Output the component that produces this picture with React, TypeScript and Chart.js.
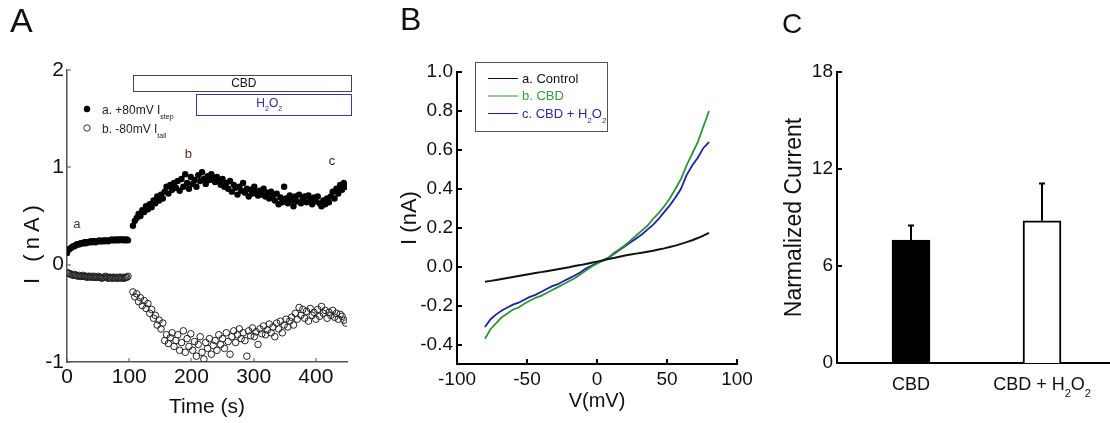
import React, { useEffect, useRef } from "react";
import { Chart, registerables } from "chart.js";

Chart.register(...registerables);

const SANS = "'Liberation Sans', Arial, sans-serif";
const NARROW = "'Liberation Sans Narrow', 'Liberation Sans', Arial, sans-serif";

// ---------------- Panel A data ----------------
const timeBaseline = [
  0, 2, 4, 6, 8, 10, 12, 14, 16, 18, 20, 22, 24, 26, 28, 30, 32, 34, 36, 38,
  40, 42, 44, 46, 48, 50, 52, 54, 56, 58, 60, 62, 64, 66, 68, 70, 72, 74, 76, 78,
  80, 82, 84, 86, 88, 90, 92, 94, 96, 98,
];
const stepBaseline = [
  0.12, 0.15, 0.16, 0.17, 0.18, 0.19, 0.19, 0.2, 0.21, 0.21,
  0.21, 0.22, 0.22, 0.22, 0.23, 0.22, 0.23, 0.23, 0.23, 0.24,
  0.23, 0.24, 0.24, 0.23, 0.24, 0.24, 0.25, 0.24, 0.24, 0.25,
  0.24, 0.25, 0.25, 0.24, 0.25, 0.25, 0.26, 0.25, 0.25, 0.26,
  0.25, 0.26, 0.25, 0.26, 0.26, 0.25, 0.26, 0.25, 0.26, 0.25,
];
const tailBaseline = [
  -0.08, -0.09, -0.09, -0.1, -0.1, -0.11, -0.1, -0.11, -0.11, -0.12,
  -0.11, -0.12, -0.12, -0.11, -0.12, -0.12, -0.13, -0.12, -0.12, -0.13,
  -0.12, -0.13, -0.12, -0.13, -0.13, -0.12, -0.13, -0.13, -0.14, -0.13,
  -0.13, -0.12, -0.13, -0.14, -0.13, -0.13, -0.14, -0.13, -0.13, -0.14,
  -0.13, -0.14, -0.13, -0.13, -0.14, -0.13, -0.14, -0.13, -0.13, -0.12,
];
const timeTreatment = [
  106, 109, 112, 115, 118, 121, 124, 127, 130, 133,
  136, 139, 142, 145, 148, 151, 154, 157, 160, 163,
  166, 169, 172, 175, 178, 181, 184, 187, 190, 193,
  196, 199, 202, 205, 208, 211, 214, 217, 220, 223,
  226, 229, 232, 235, 238, 241, 244, 247, 250, 253,
  256, 259, 262, 265, 268, 271, 274, 277, 280, 283,
  286, 289, 292, 295, 298, 301, 304, 307, 310, 313,
  316, 319, 322, 325, 328, 331, 334, 337, 340, 343,
  346, 349, 352, 355, 358, 361, 364, 367, 370, 373,
  376, 379, 382, 385, 388, 391, 394, 397, 400, 403,
  406, 409, 412, 415, 418, 421, 424, 427, 430, 433,
  436, 439, 442, 445, 448,
];
const stepTreatment = [
  0.4, 0.45, 0.48, 0.52, 0.5, 0.56, 0.54, 0.6, 0.57, 0.62,
  0.59, 0.66, 0.63, 0.7, 0.66, 0.72, 0.68, 0.75, 0.8, 0.73,
  0.82, 0.77, 0.84, 0.79, 0.86, 0.76, 0.88, 0.8, 0.93, 0.84,
  0.78, 0.9, 0.83, 0.87, 0.8, 0.92, 0.86, 0.95, 0.88, 0.83,
  0.91, 0.87, 0.93, 0.89, 0.85, 0.9, 0.86, 0.82, 0.88, 0.8,
  0.84, 0.78, 0.86, 0.75, 0.82, 0.79, 0.72, 0.8, 0.76, 0.84,
  0.74, 0.78, 0.7, 0.77, 0.73, 0.8, 0.75, 0.71, 0.76, 0.72,
  0.78, 0.7, 0.74, 0.68, 0.75, 0.71, 0.66, 0.73, 0.62, 0.69,
  0.64, 0.8, 0.68, 0.63, 0.71, 0.66, 0.6, 0.7, 0.65, 0.72,
  0.63, 0.68, 0.7, 0.64, 0.71, 0.66, 0.62, 0.69, 0.65, 0.7,
  0.63, 0.6, 0.66, 0.62, 0.68, 0.64, 0.7, 0.75, 0.68, 0.78,
  0.73, 0.82, 0.77, 0.84, 0.8,
];
const tailTreatment = [
  -0.28, -0.33, -0.3, -0.38, -0.34, -0.42, -0.37, -0.45, -0.4, -0.5,
  -0.46, -0.55, -0.52, -0.62, -0.57, -0.66, -0.6, -0.78, -0.72, -0.81,
  -0.75, -0.7, -0.84, -0.78, -0.72, -0.88, -0.8, -0.68, -0.9, -0.76,
  -0.84, -0.71, -0.88, -0.79, -0.94, -0.82, -0.74, -0.9, -0.97, -0.8,
  -0.86, -0.76, -0.92, -0.83, -0.78, -0.88, -0.72, -0.82, -0.76, -0.86,
  -0.7, -0.79, -0.92, -0.74, -0.68, -0.8, -0.72, -0.66, -0.76, -0.7,
  -0.78, -0.94, -0.68, -0.73, -0.65, -0.74, -0.69, -0.82, -0.66, -0.71,
  -0.63, -0.72, -0.67, -0.61, -0.7, -0.64, -0.74, -0.6, -0.66, -0.58,
  -0.7, -0.62, -0.56, -0.64, -0.58, -0.54, -0.62, -0.5, -0.56, -0.44,
  -0.52, -0.46, -0.55, -0.48, -0.58, -0.45, -0.52, -0.49, -0.56, -0.46,
  -0.53, -0.43, -0.5, -0.47, -0.55, -0.49, -0.52, -0.47, -0.54, -0.5,
  -0.56, -0.51, -0.53, -0.57, -0.6,
];
const xTicksA = [0, 100, 200, 300, 400];
const yTicksA = [-1, 0, 1, 2];
const cbdPeriod = { start: 106, end: 456, low: 1.79, high: 1.95 };
const h2o2Period = { start: 207, end: 456, low: 1.54, high: 1.755 };
const pointLabelsA = [
  { text: "a", t: 16, v: 0.41, color: "#1e3b44" },
  { text: "b", t: 195, v: 1.13, color: "#5b2c1e" },
  { text: "c", t: 426, v: 1.06, color: "#222222" },
];

// ---------------- Panel B data ----------------
const voltage = [
  -80, -76, -72, -68, -64, -60, -56, -52, -48, -44, -40, -36, -32, -28, -24, -20,
  -16, -12, -8, -4, 0, 4, 8, 12, 16, 20, 24, 28, 32, 36, 40, 44, 48, 52, 56, 60,
  64, 68, 72, 76, 80,
];
const controlIV = [
  -0.077, -0.073, -0.068, -0.063, -0.058, -0.053, -0.048, -0.043, -0.038, -0.033,
  -0.028, -0.023, -0.018, -0.013, -0.008, -0.003, 0.003, 0.008, 0.014, 0.02,
  0.026,
  0.032, 0.039, 0.045, 0.051, 0.057, 0.062, 0.067, 0.072, 0.077, 0.082,
  0.088, 0.094, 0.101, 0.108, 0.117, 0.126, 0.136, 0.147, 0.159, 0.174,
];
const cbdIV = [
  -0.37, -0.32, -0.29, -0.26, -0.24, -0.22, -0.21, -0.19, -0.175, -0.16,
  -0.15, -0.135, -0.12, -0.105, -0.09, -0.075, -0.06, -0.04, -0.02, 0.0,
  0.015,
  0.03, 0.045, 0.07, 0.09, 0.11, 0.135, 0.16, 0.185, 0.21, 0.245,
  0.275, 0.31, 0.35, 0.4, 0.45, 0.52, 0.58, 0.64, 0.72, 0.8,
];
const cbdH2o2IV = [
  -0.31, -0.27, -0.245, -0.225, -0.21, -0.195, -0.185, -0.17, -0.155, -0.145,
  -0.13, -0.115, -0.1, -0.09, -0.075, -0.06, -0.045, -0.03, -0.01, 0.005,
  0.02,
  0.032, 0.045, 0.065, 0.085, 0.105, 0.125, 0.145, 0.165, 0.19, 0.215,
  0.245, 0.28, 0.315, 0.355, 0.4, 0.47, 0.52, 0.56, 0.61, 0.64,
];
const xTicksB = [-100, -50, 0, 50, 100];
const yTicksB = [-0.4, -0.2, 0, 0.2, 0.4, 0.6, 0.8, 1.0];

// ---------------- Panel C data ----------------
const barPositions = [1, 2];
const barMeans = [7.6, 8.8];
const barErrors = [0.9, 2.3];
const yTicksC = [0, 6, 12, 18];

const GREEN = "#2f9433";
const BLUE = "#2020a8";

type Seg = { t: string; sub?: boolean };

function drawRich(
  ctx: CanvasRenderingContext2D,
  segs: Seg[],
  x: number,
  y: number,
  size: number,
  subSize: number,
  subDrop: number,
  color: string,
  align: "left" | "center",
  family = SANS
) {
  const widths = segs.map((s) => {
    ctx.font = `${s.sub ? subSize : size}px ${family}`;
    return ctx.measureText(s.t).width;
  });
  const total = widths.reduce((a, b) => a + b, 0);
  let cx = align === "center" ? x - total / 2 : x;
  ctx.fillStyle = color;
  ctx.textAlign = "left";
  ctx.textBaseline = "alphabetic";
  segs.forEach((s, i) => {
    ctx.font = `${s.sub ? subSize : size}px ${family}`;
    ctx.fillText(s.t, cx, s.sub ? y + subDrop : y);
    cx += widths[i];
  });
}

function innerTicks(len: number, color: string, width: number, axes: string[]) {
  return {
    id: "innerTicks",
    afterDraw(chart: any) {
      const { ctx, chartArea } = chart;
      ctx.save();
      ctx.strokeStyle = color;
      ctx.lineWidth = width;
      axes.forEach((id) => {
        const s = chart.scales[id];
        s.ticks.forEach((t: any) => {
          const p = Math.round(s.getPixelForValue(t.value));
          ctx.beginPath();
          if (s.isHorizontal()) {
            ctx.moveTo(p, chartArea.bottom);
            ctx.lineTo(p, chartArea.bottom - len);
          } else {
            ctx.moveTo(chartArea.left, p);
            ctx.lineTo(chartArea.left + len, p);
          }
          ctx.stroke();
        });
      });
      ctx.restore();
    },
  };
}

function panelLetter(text: string, x: number, y: number, size: number) {
  return {
    id: "panelLetter",
    afterDraw(chart: any) {
      const ctx = chart.ctx;
      ctx.save();
      ctx.font = `${size}px ${SANS}`;
      ctx.fillStyle = "#111";
      ctx.textAlign = "left";
      ctx.textBaseline = "alphabetic";
      ctx.fillText(text, x, y);
      ctx.restore();
    },
  };
}

const ticksFrom = (arr: number[]) => (s: any) => {
  s.ticks = arr.map((v) => ({ value: v }));
};

// ---------------- Panel A ----------------
function configA(): any {
  const stepPoints = [
    ...timeBaseline.map((t, i) => ({ x: t, y: stepBaseline[i] })),
    ...timeTreatment.map((t, i) => ({ x: t, y: stepTreatment[i] })),
  ];
  const tailPoints = [
    ...timeBaseline.map((t, i) => ({ x: t, y: tailBaseline[i] })),
    ...timeTreatment.map((t, i) => ({ x: t, y: tailTreatment[i] })),
  ];
  const overlay = {
    id: "overlayA",
    afterDraw(chart: any) {
      const { ctx, chartArea } = chart;
      const xs = chart.scales.x;
      const ys = chart.scales.y;
      ctx.save();
      // y axis title
      ctx.save();
      ctx.translate(33, (chartArea.top + chartArea.bottom) / 2 + 26);
      ctx.rotate(-Math.PI / 2);
      (ctx as any).letterSpacing = "5px";
      ctx.font = `22px ${SANS}`;
      ctx.fillStyle = "#111";
      ctx.textAlign = "center";
      ctx.textBaseline = "middle";
      ctx.fillText("I (nA)", 0, 0);
      (ctx as any).letterSpacing = "0px";
      ctx.restore();
      // treatment bars
      const x1 = xs.getPixelForValue(cbdPeriod.start);
      const x2 = xs.getPixelForValue(cbdPeriod.end);
      const y1 = ys.getPixelForValue(cbdPeriod.high);
      const y2 = ys.getPixelForValue(cbdPeriod.low);
      ctx.strokeStyle = "#444";
      ctx.lineWidth = 1;
      ctx.strokeRect(Math.round(x1) + 0.5, Math.round(y1) + 0.5, Math.round(x2 - x1), Math.round(y2 - y1));
      ctx.font = `12px ${SANS}`;
      ctx.fillStyle = "#111";
      ctx.textAlign = "center";
      ctx.textBaseline = "middle";
      ctx.fillText("CBD", (x1 + x2) / 2 + 2, (y1 + y2) / 2 + 1);
      const h1 = xs.getPixelForValue(h2o2Period.start);
      const h2 = xs.getPixelForValue(h2o2Period.end);
      const hy1 = ys.getPixelForValue(h2o2Period.high);
      const hy2 = ys.getPixelForValue(h2o2Period.low);
      ctx.strokeStyle = "#3838b0";
      ctx.strokeRect(Math.round(h1) + 0.5, Math.round(hy1) + 0.5, Math.round(h2 - h1), Math.round(hy2 - hy1));
      drawRich(
        ctx,
        [{ t: "H" }, { t: "2", sub: true }, { t: "O" }, { t: "2", sub: true }],
        (h1 + h2) / 2 - 4,
        (hy1 + hy2) / 2 + 3,
        12,
        7,
        4,
        "#2a2aa0",
        "center"
      );
      // legend
      const lx = chartArea.left + 20;
      const ly1 = chartArea.top + 39;
      const ly2 = chartArea.top + 58;
      ctx.fillStyle = "#000";
      ctx.beginPath();
      ctx.arc(lx, ly1, 3.2, 0, Math.PI * 2);
      ctx.fill();
      ctx.strokeStyle = "#333";
      ctx.lineWidth = 1;
      ctx.beginPath();
      ctx.arc(lx, ly2, 3.2, 0, Math.PI * 2);
      ctx.stroke();
      drawRich(ctx, [{ t: "a. +80mV I" }, { t: "step", sub: true }], lx + 15, ly1 + 4.5, 12, 7, 5, "#1a1a1a", "left");
      drawRich(ctx, [{ t: "b. -80mV I" }, { t: "tail", sub: true }], lx + 15, ly2 + 4.5, 12, 7, 5, "#2a1a1a", "left");
      // point labels
      ctx.font = `13px ${SANS}`;
      ctx.textAlign = "center";
      ctx.textBaseline = "middle";
      pointLabelsA.forEach((p) => {
        ctx.fillStyle = p.color;
        ctx.fillText(p.text, xs.getPixelForValue(p.t), ys.getPixelForValue(p.v));
      });
      ctx.restore();
    },
  };
  return {
    type: "scatter",
    data: {
      datasets: [
        {
          label: "a. +80mV Istep",
          data: stepPoints,
          pointRadius: 3.2,
          pointBackgroundColor: "#000",
          pointBorderColor: "#000",
          pointBorderWidth: 0,
        },
        {
          label: "b. -80mV Itail",
          data: tailPoints,
          pointRadius: 3.3,
          pointBackgroundColor: "rgba(0,0,0,0)",
          pointBorderColor: "#222",
          pointBorderWidth: 1,
        },
      ],
    },
    options: {
      responsive: false,
      animation: false,
      devicePixelRatio: 1,
      layout: { padding: { left: 20, right: 23, top: 70, bottom: 3 } },
      plugins: { legend: { display: false }, tooltip: { enabled: false } },
      scales: {
        x: {
          type: "linear",
          min: 0,
          max: 450,
          afterBuildTicks: ticksFrom(xTicksA),
          afterFit: (s: any) => {
            s.height = 58;
          },
          grid: { display: false, drawTicks: false },
          border: { display: true, color: "#555", width: 1.5 },
          ticks: { color: "#111", font: { family: NARROW, size: 21 }, padding: 3, maxRotation: 0, autoSkip: false },
          title: { display: true, text: "Time (s)", color: "#111", font: { family: NARROW, size: 21 }, padding: { top: 0, bottom: 0 } },
        },
        y: {
          type: "linear",
          min: -1,
          max: 2,
          afterBuildTicks: ticksFrom(yTicksA),
          afterFit: (s: any) => {
            s.width = 47;
          },
          grid: { display: false, drawTicks: false },
          border: { display: true, color: "#555", width: 1.5 },
          ticks: { color: "#111", font: { family: NARROW, size: 21 }, padding: 3 },
        },
      },
    },
    plugins: [innerTicks(4, "#555", 1, ["x", "y"]), panelLetter("A", 10, 32, 34), overlay],
  };
}

// ---------------- Panel B ----------------
function configB(): any {
  const overlay = {
    id: "overlayB",
    afterDraw(chart: any) {
      const { ctx, chartArea } = chart;
      ctx.save();
      const bx = chartArea.left + 18;
      const by = chartArea.top - 10;
      ctx.strokeStyle = "#555";
      ctx.lineWidth = 1;
      ctx.strokeRect(Math.round(bx) + 0.5, Math.round(by) + 0.5, 132, 69);
      const rows = [
        { segs: [{ t: "a. Control" }], color: "#111", line: "#111" },
        { segs: [{ t: "b. CBD" }], color: "#3a9a3a", line: GREEN },
        {
          segs: [{ t: "c. CBD + H" }, { t: "2", sub: true }, { t: "O" }, { t: "2", sub: true }],
          color: "#2a2a9a",
          line: BLUE,
        },
      ];
      rows.forEach((r, i) => {
        const cy = by + 16 + i * 17.5;
        ctx.strokeStyle = r.line;
        ctx.lineWidth = 1;
        ctx.beginPath();
        ctx.moveTo(bx + 13, cy + 0.5);
        ctx.lineTo(bx + 43, cy + 0.5);
        ctx.stroke();
        drawRich(ctx, r.segs, bx + 47, cy + 4.5, 13, 8, 5, r.color, "left");
      });
      ctx.restore();
    },
  };
  const mk = (ys: number[]) => voltage.map((v, i) => ({ x: v, y: ys[i] }));
  return {
    type: "line",
    data: {
      datasets: [
        { label: "a. Control", data: mk(controlIV), borderColor: "#111", borderWidth: 2, pointRadius: 0, tension: 0 },
        { label: "b. CBD", data: mk(cbdIV), borderColor: GREEN, borderWidth: 1.8, pointRadius: 0, tension: 0 },
        { label: "c. CBD + H2O2", data: mk(cbdH2o2IV), borderColor: BLUE, borderWidth: 1.8, pointRadius: 0, tension: 0 },
      ],
    },
    options: {
      responsive: false,
      animation: false,
      devicePixelRatio: 1,
      layout: { padding: { left: 27, right: 38, top: 72, bottom: 10 } },
      plugins: { legend: { display: false }, tooltip: { enabled: false } },
      scales: {
        x: {
          type: "linear",
          min: -100,
          max: 100,
          afterBuildTicks: ticksFrom(xTicksB),
          afterFit: (s: any) => {
            s.height = 49;
          },
          grid: { display: false, drawTicks: false },
          border: { display: true, color: "#000", width: 2 },
          ticks: { color: "#111", font: { family: SANS, size: 19 }, padding: 4, maxRotation: 0, autoSkip: false },
          title: { display: true, text: "V(mV)", color: "#111", font: { family: SANS, size: 20 }, padding: { top: 0, bottom: 0 } },
        },
        y: {
          type: "linear",
          min: -0.5,
          max: 1.0,
          afterBuildTicks: ticksFrom(yTicksB),
          afterFit: (s: any) => {
            s.width = 60;
          },
          grid: { display: false, drawTicks: false },
          border: { display: true, color: "#000", width: 2 },
          ticks: {
            color: "#111",
            font: { family: SANS, size: 19 },
            padding: 4,
            callback: (v: any) => Number(v).toFixed(1),
          },
          title: { display: true, text: "I (nA)", color: "#111", font: { family: SANS, size: 22 }, padding: { top: 0, bottom: 0 } },
        },
      },
    },
    plugins: [innerTicks(5, "#000", 2, ["x", "y"]), panelLetter("B", 30, 30, 32), overlay],
  };
}

// ---------------- Panel C ----------------
function configC(): any {
  const overlay = {
    id: "overlayC",
    afterDraw(chart: any) {
      const { ctx } = chart;
      const xs = chart.scales.x;
      const ys = chart.scales.y;
      const meta = chart.getDatasetMeta(0);
      ctx.save();
      // error bars
      ctx.strokeStyle = "#000";
      ctx.lineWidth = 2;
      meta.data.forEach((el: any, i: number) => {
        const x = Math.round(el.x);
        const yTop = ys.getPixelForValue(barMeans[i] + barErrors[i]);
        ctx.beginPath();
        ctx.moveTo(x, el.y);
        ctx.lineTo(x, yTop);
        ctx.moveTo(x - 3, yTop);
        ctx.lineTo(x + 3, yTop);
        ctx.stroke();
      });
      // category labels
      const base = chart.chartArea.bottom + 27;
      drawRich(ctx, [{ t: "CBD" }], xs.getPixelForValue(barPositions[0]), base, 18, 11, 7, "#111", "center");
      drawRich(
        ctx,
        [{ t: "CBD + H" }, { t: "2", sub: true }, { t: "O" }, { t: "2", sub: true }],
        xs.getPixelForValue(barPositions[1]),
        base,
        18,
        11,
        7,
        "#111",
        "center"
      );
      ctx.restore();
    },
  };
  return {
    type: "bar",
    data: {
      datasets: [
        {
          label: "Normalized current",
          data: barPositions.map((p, i) => ({ x: p, y: barMeans[i] })),
          backgroundColor: ["#000", "#fff"],
          borderColor: "#000",
          borderWidth: 2,
          barThickness: 38,
        },
      ],
    },
    options: {
      responsive: false,
      animation: false,
      devicePixelRatio: 1,
      layout: { padding: { left: 6, right: 0, top: 72, bottom: 10 } },
      plugins: { legend: { display: false }, tooltip: { enabled: false } },
      scales: {
        x: {
          type: "linear",
          min: 0.435,
          max: 2.519,
          offset: false,
          z: 1,
          afterFit: (s: any) => {
            s.height = 50;
          },
          grid: { display: false, drawTicks: false, offset: false },
          border: { display: true, color: "#000", width: 2 },
          ticks: { display: false },
        },
        y: {
          type: "linear",
          min: 0,
          max: 18,
          z: 1,
          afterBuildTicks: ticksFrom(yTicksC),
          afterFit: (s: any) => {
            s.width = 56;
          },
          grid: { display: false, drawTicks: false },
          border: { display: true, color: "#000", width: 2 },
          ticks: { color: "#111", font: { family: SANS, size: 19 }, padding: 4 },
          title: {
            display: true,
            text: "Narmalized Current",
            color: "#111",
            font: { family: SANS, size: 23 },
            padding: { top: 0, bottom: 0 },
          },
        },
      },
    },
    plugins: [innerTicks(5, "#000", 2, ["y"]), panelLetter("C", 7, 33, 28), overlay],
  };
}

export default function App() {
  const refA = useRef<HTMLCanvasElement>(null);
  const refB = useRef<HTMLCanvasElement>(null);
  const refC = useRef<HTMLCanvasElement>(null);

  useEffect(() => {
    const charts = [
      new Chart(refA.current as HTMLCanvasElement, configA()),
      new Chart(refB.current as HTMLCanvasElement, configB()),
      new Chart(refC.current as HTMLCanvasElement, configC()),
    ];
    return () => charts.forEach((c) => c.destroy());
  }, []);

  const cs = (left: number, width: number): React.CSSProperties => ({
    position: "absolute",
    left,
    top: 0,
    width,
    height: 423,
  });

  return (
    <div style={{ position: "fixed", left: 0, top: 0, width: 1110, height: 423, background: "#fff" }}>
      <canvas ref={refA} width={370} height={423} style={cs(0, 370)} />
      <canvas ref={refB} width={405} height={423} style={cs(370, 405)} />
      <canvas ref={refC} width={335} height={423} style={cs(775, 335)} />
    </div>
  );
}
